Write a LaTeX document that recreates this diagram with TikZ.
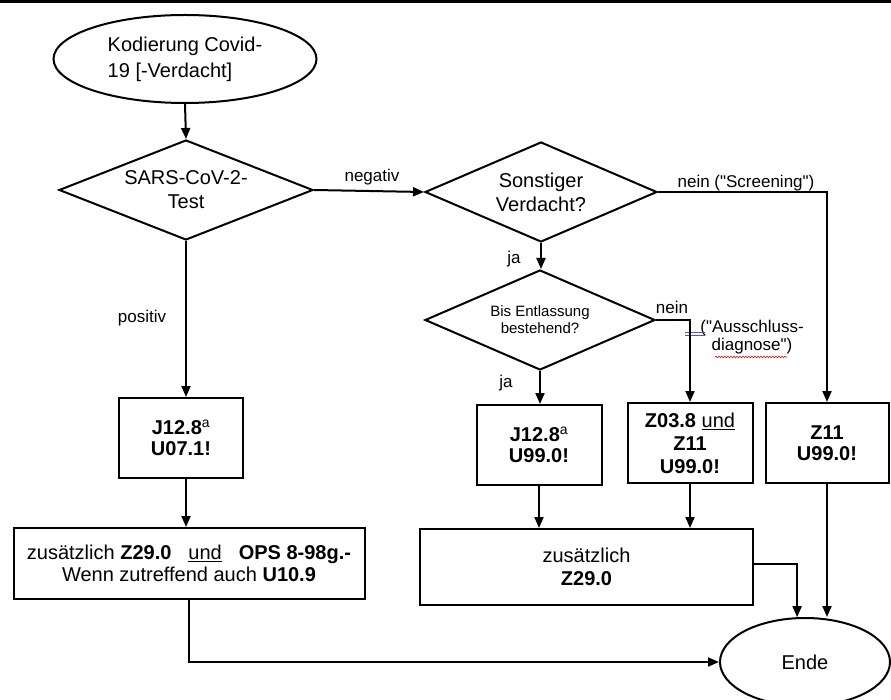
\documentclass[tikz,border=0pt]{standalone}
\usepackage{fontspec}
\setmainfont[Ligatures=TeXOff]{Liberation Sans}
\setsansfont[Ligatures=TeXOff]{Liberation Sans}
\usetikzlibrary{shapes.geometric,arrows.meta,decorations.pathmorphing}
\begin{document}
\begin{tikzpicture}[x=1pt,y=-1pt,
  line width=2pt,
  arr/.style={-{Triangle[length=11pt,width=9pt]}},
  boxnode/.style={draw,rectangle,inner sep=0pt,align=center,font=\fontsize{20}{21}\selectfont\bfseries},
  bigbox/.style={draw,rectangle,inner sep=0pt,align=center,font=\fontsize{20}{23}\selectfont},
  decnode/.style={draw,diamond,inner sep=0pt,align=center,font=\fontsize{20}{24}\selectfont},
  lbl/.style={font=\fontsize{17}{18}\selectfont,inner sep=0pt},
  ovalnode/.style={draw,ellipse,inner sep=0pt,font=\fontsize{20}{26}\selectfont}]
\useasboundingbox (0,0) rectangle (891,700);
\draw[line width=3pt] (0,1.5) -- (891,1.5);

\node[ovalnode,minimum width=263pt,minimum height=88pt,align=left] (start) at (185,59) {Kodierung Covid-\\19 [-Verdacht]};
\node[decnode,minimum width=254pt,minimum height=100pt,aspect=2.54] (d1) at (186,190) {SARS-CoV-2-\\Test};
\node[decnode,minimum width=232pt,minimum height=100pt,aspect=2.3] (d2) at (541,192) {Sonstiger\\Verdacht?};
\node[decnode,minimum width=230pt,minimum height=100pt,aspect=2.3,font=\fontsize{15}{17}\selectfont] (d3) at (540,320) {Bis Entlassung\\bestehend?};

\node[boxnode,minimum width=124pt,minimum height=80pt] (b1) at (181,438) {J12.8\textsuperscript{\mdseries a}\\U07.1!};
\node[boxnode,minimum width=125pt,minimum height=80pt] (b2) at (539,445) {J12.8\textsuperscript{\mdseries a}\\U99.0!};
\node[boxnode,minimum width=125pt,minimum height=80pt,font=\fontsize{20}{23}\selectfont\bfseries] (b3) at (690,443) {Z03.8 \underline{\mdseries und}\\Z11\\U99.0!};
\node[boxnode,minimum width=123pt,minimum height=80pt] (b4) at (827,443) {Z11\\U99.0!};

\node[bigbox,minimum width=351pt,minimum height=71pt,font=\fontsize{20}{22}\selectfont] (big1) at (189,563.5) {zusätzlich \textbf{Z29.0}\hspace{17pt}\underline{und}\hspace{17pt}\textbf{OPS 8-98g.-}\\Wenn zutreffend auch \textbf{U10.9}};
\node[bigbox,minimum width=333pt,minimum height=76pt] (big2) at (586.5,567) {zusätzlich\\\textbf{Z29.0}};

\node[ovalnode,minimum width=170pt,minimum height=88pt] (ende) at (805,662) {Ende};

\node[lbl] (lneg) at (372,177) {negativ};
\node[lbl] (lpos) at (142,318) {positiv};
\node[lbl] (lscr) at (746,183) {nein ("Screening")};
\node[lbl] (lja1) at (514,259) {ja};
\node[lbl] (lnein) at (672,307) {nein};
\node[lbl,align=center] (lauss) at (752,337) {("Ausschluss-\\diagnose")};
\node[lbl] (lja2) at (506,383) {ja};

\draw[blue!70,line width=0.6pt] (685,332) -- (705,332) (685,335) -- (705,335);
\draw[red,line width=0.6pt,decorate,decoration={snake,amplitude=0.8pt,segment length=3pt}] (715,357) -- (787,357);

\draw[arr] (start.south) -- (d1.north);
\draw[arr] (d1.east) -- (d2.west);
\draw[arr] (d2.east) -| (b4.north);
\draw[arr] (d2.south) -- (d2.south |- d3.north);
\draw[arr] (d3.east) -| (b3.north);
\draw[arr] (d3.south) -- (d3.south |- b2.north);
\draw[arr] (d1.south) -- (d1.south |- b1.north);
\draw[arr] (d1.south |- b1.south) -- (d1.south |- big1.north);
\draw[arr] (b2.south) -- (b2.south |- big2.north);
\draw[arr] (b3.south) -- (b3.south |- big2.north);
\draw[arr] ([yshift=3pt]big2.east) -| (ende.100);
\draw[arr] (b4.south) -- (b4.south |- ende.north);
\draw[arr] (big1.south) |- (ende.west);
\end{tikzpicture}
\end{document}
